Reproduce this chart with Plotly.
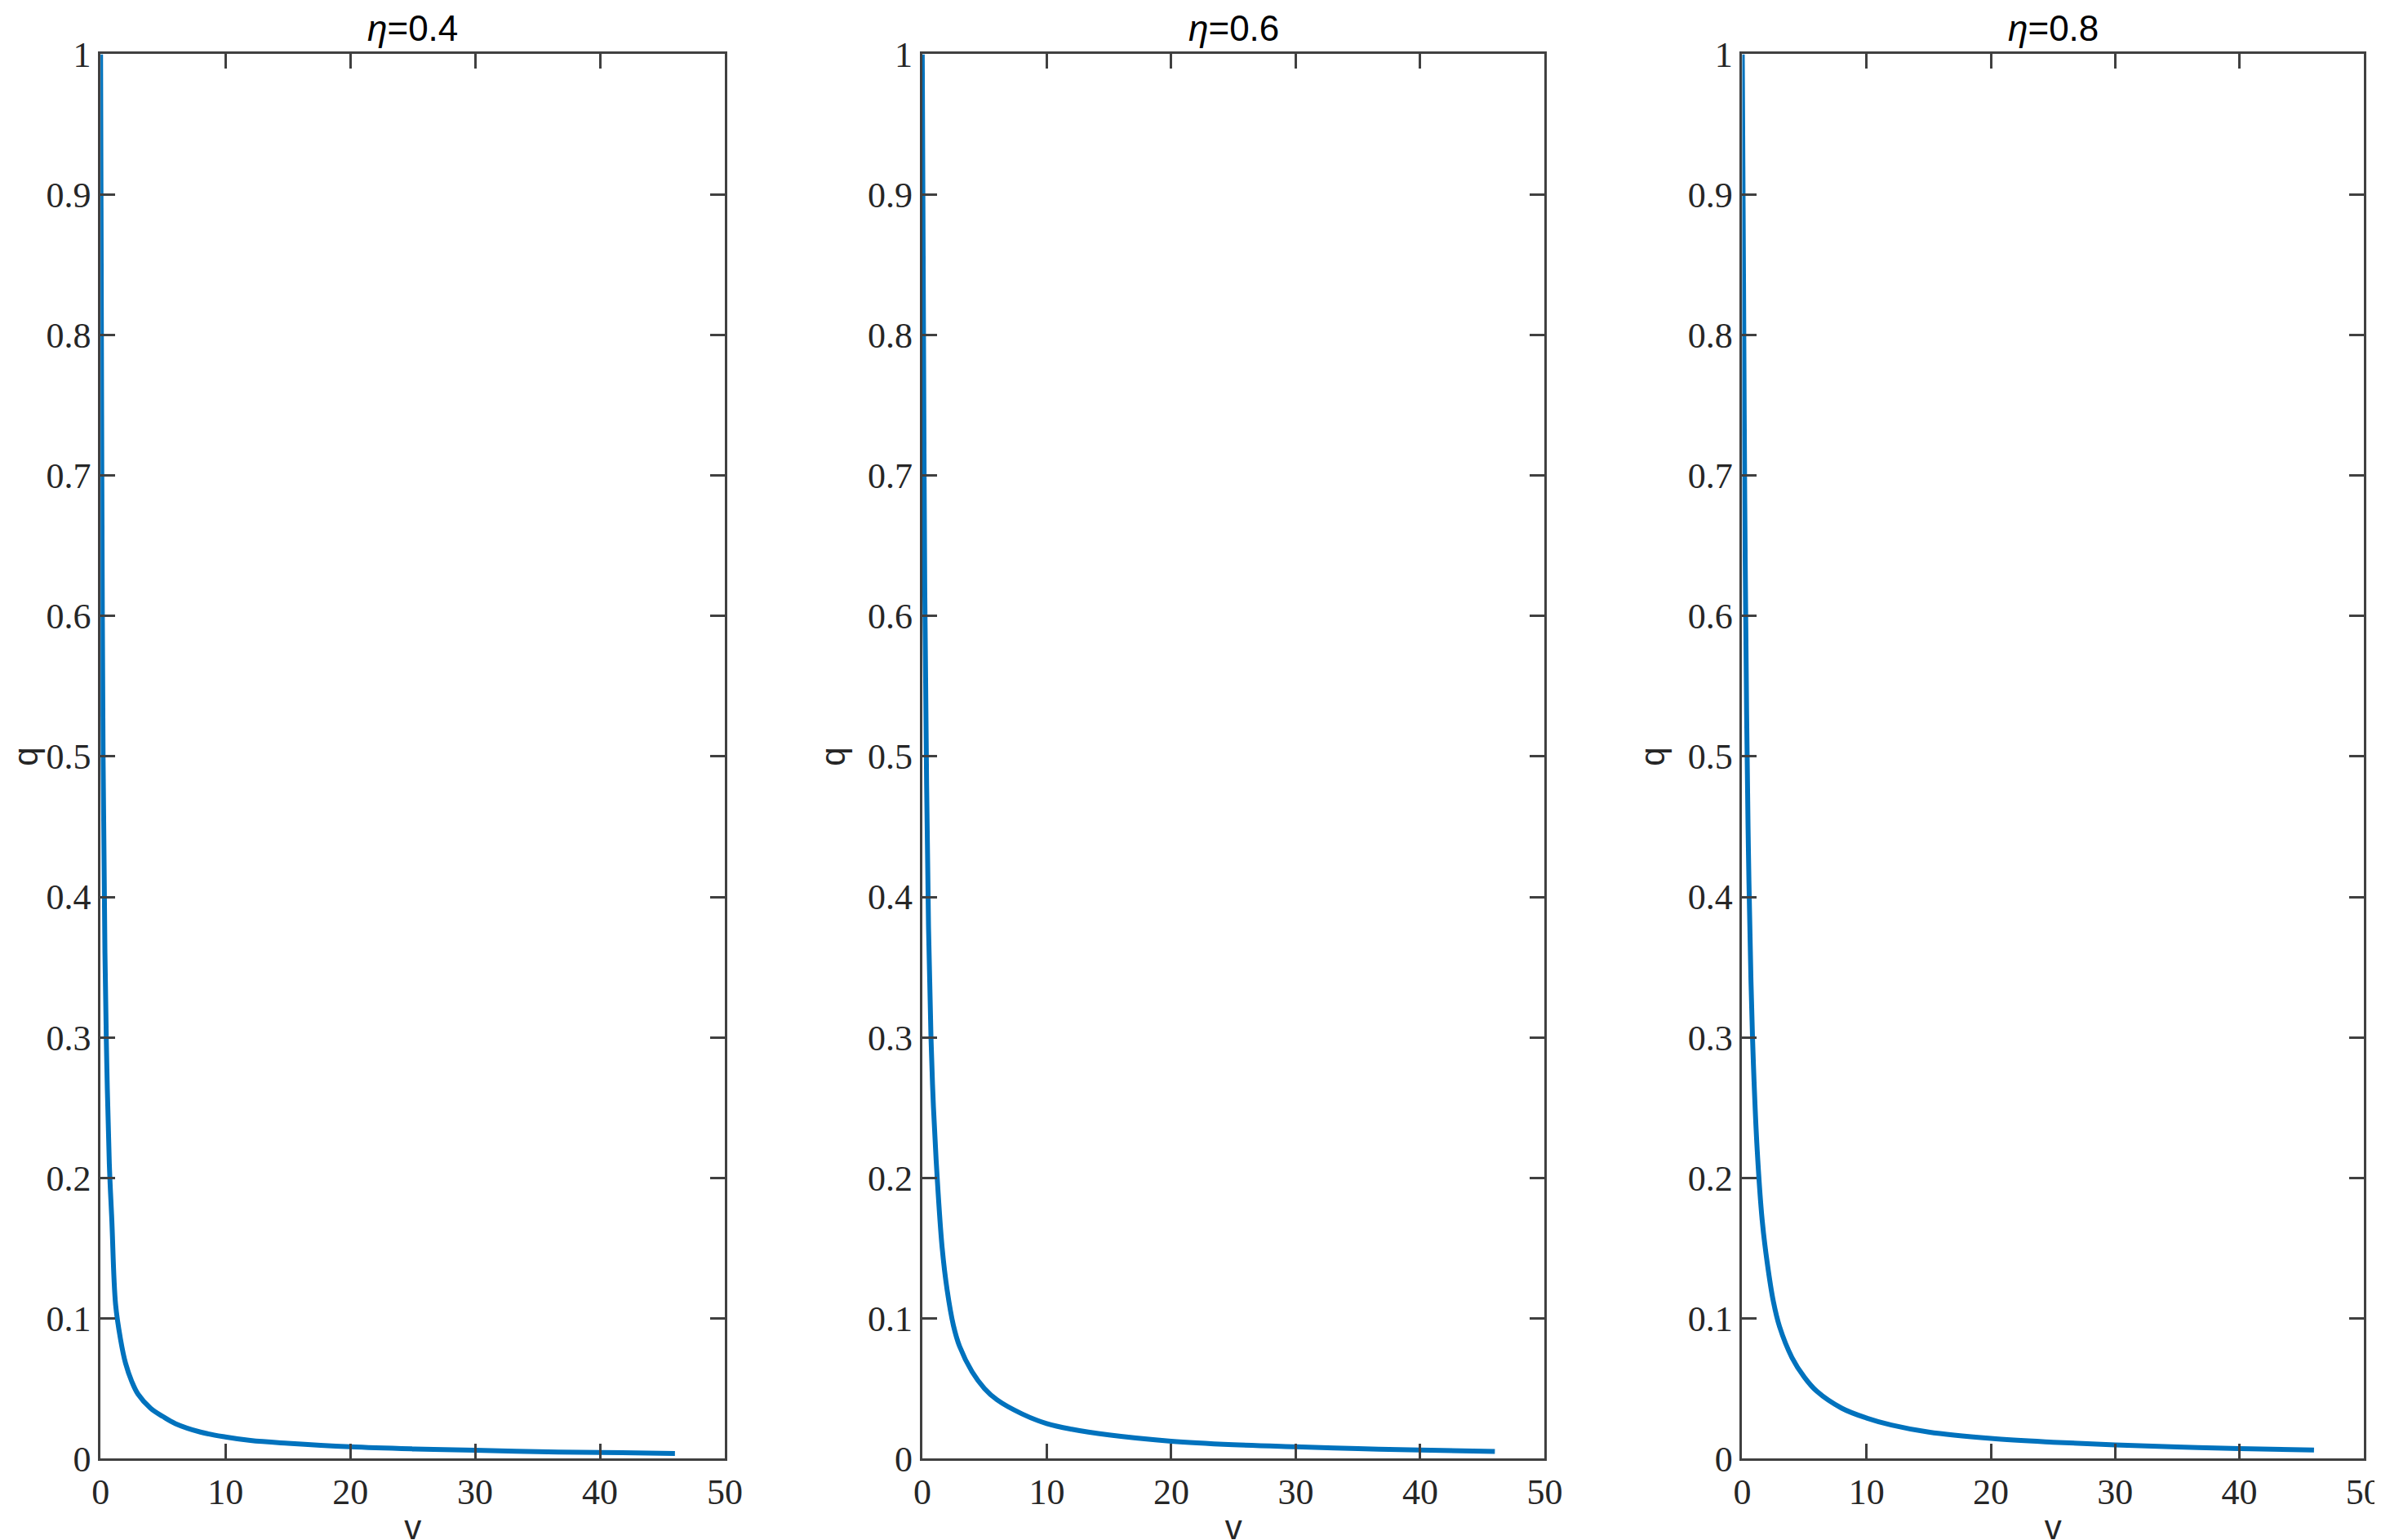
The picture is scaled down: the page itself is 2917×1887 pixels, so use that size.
import plotly.graph_objects as go

titles = ["η=0.4", "η=0.6", "η=0.8"]
v1 = [0.0, 0.05, 0.1, 0.2, 0.35, 0.5, 0.7, 0.9, 1.2, 1.6, 2.0, 2.5, 3.0, 4.0, 5.0, 6.0, 8.0, 10.0, 12.0, 15.0, 20.0, 25.0, 30.0, 35.0, 40.0, 46.0]
q1 = [1.0, 0.85, 0.7, 0.5, 0.36, 0.28, 0.21, 0.17, 0.11, 0.085, 0.068, 0.055, 0.046, 0.036, 0.030, 0.025, 0.019, 0.0155, 0.013, 0.011, 0.0085, 0.007, 0.006, 0.005, 0.0045, 0.0038]
q2 = [1.0, 0.9, 0.8, 0.62, 0.48, 0.38, 0.3, 0.25, 0.2, 0.15, 0.12, 0.095, 0.08, 0.062, 0.05, 0.042, 0.032, 0.025, 0.021, 0.017, 0.0125, 0.010, 0.0085, 0.0072, 0.0062, 0.0052]
q3 = [1.0, 0.92, 0.84, 0.68, 0.53, 0.43, 0.34, 0.28, 0.22, 0.17, 0.14, 0.112, 0.094, 0.072, 0.058, 0.048, 0.036, 0.029, 0.024, 0.019, 0.0145, 0.0118, 0.0098, 0.0084, 0.0073, 0.0062]
series = [q1, q2, q3]
xticks = [0, 10, 20, 30, 40, 50]
yticks = [0, 0.1, 0.2, 0.3, 0.4, 0.5, 0.6, 0.7, 0.8, 0.9, 1]

fig = go.Figure()
domains = [(0.0395, 0.3017), (0.3846, 0.646), (0.729, 0.990)]
annotations = []
for i, (q, t, d) in enumerate(zip(series, titles, domains)):
    sfx = "" if i == 0 else str(i + 1)
    fig.add_trace(go.Scatter(x=v1, y=q, mode="lines", line=dict(color="#0072BD", width=6, shape="spline"),
                             xaxis="x" + sfx, yaxis="y" + sfx, showlegend=False))
    common = dict(showline=True, mirror="ticks", linecolor="#404040", linewidth=3, ticks="inside",
                  ticklen=18, tickwidth=3, tickcolor="#404040", showgrid=False, zeroline=False,
                  automargin=False,
                  tickfont=dict(family="Liberation Serif", size=44, color="#262626"))
    fig.layout["xaxis" + sfx] = dict(common, domain=list(d), range=[0, 50], tickvals=xticks, anchor="y" + sfx,
                                    title=dict(text="v", font=dict(family="Liberation Sans", size=42, color="#262626"), standoff=25))
    fig.layout["yaxis" + sfx] = dict(common, domain=[0.057, 0.969], range=[0, 1], tickvals=yticks, anchor="x" + sfx,
                                    ticktext=[f"{y:g}" for y in yticks],
                                    title=dict(text="q", font=dict(family="Liberation Sans", size=42, color="#262626"), standoff=15))
    annotations.append(dict(text=f"<i>η</i>=" + t.split("=")[1], x=(d[0] + d[1]) / 2, y=0.972, xref="paper", yref="paper",
                            xanchor="center", yanchor="bottom", showarrow=False,
                            font=dict(family="Liberation Sans", size=44, color="black")))
fig.update_layout(width=2917, height=1887, plot_bgcolor="white", paper_bgcolor="white",
                  margin=dict(l=0, r=0, t=0, b=0, autoexpand=False), annotations=annotations)
fig.write_html("out.html")
